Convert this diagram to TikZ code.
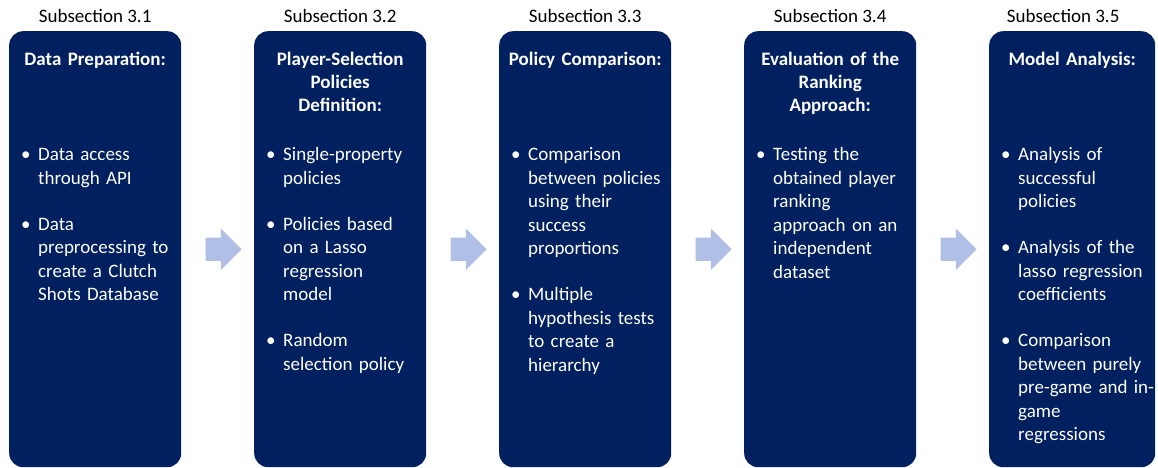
\documentclass[tikz,border=0pt]{standalone}
\usepackage{fontspec}
\setmainfont{Carlito}
\usepackage{enumitem}
\usetikzlibrary{positioning,shapes.arrows,calc}

\definecolor{panelblue}{HTML}{002060}
\definecolor{flowblue}{HTML}{B0BFE6}

\tikzset{
  panel/.style={fill=panelblue, rounded corners=14pt, minimum width=172pt,
    minimum height=436pt, inner sep=0pt, anchor=north west},
  heading/.style={font=\fontsize{19}{23}\selectfont, inner sep=0pt},
  title/.style={text=white, font=\fontsize{19}{23}\selectfont\bfseries,
    text width=170pt, align=center, inner sep=0pt},
  items/.style={text=white, font=\fontsize{19}{23.5}\selectfont,
    text width=156pt, align=left, inner sep=0pt},
  flow/.style={single arrow, fill=flowblue, minimum height=36pt,
    inner xsep=0pt, inner ysep=11.5pt, single arrow head extend=9pt}
}

\newcommand{\pointlist}[1]{%
  \begin{itemize}[leftmargin=17pt,labelsep=0pt,labelwidth=17pt,align=left,
    itemsep=22.5pt,parsep=0pt,topsep=0pt,partopsep=0pt]#1\end{itemize}}

\begin{document}
\begin{tikzpicture}[x=1pt,y=-1pt]
  \useasboundingbox (0,0) rectangle (1158,468);

  % panels
  \node[panel] (b1) at (9,31) {};
  \node[panel] (b2) at (254,31) {};
  \node[panel] (b3) at (499,31) {};
  \node[panel] (b4) at (744,31) {};
  \node[panel, minimum width=166pt] (b5) at (989,31) {};

  % headings
  \node[heading, above=8pt of b1.north] (h1) {Subsection 3.1};
  \node[heading, above=8pt of b2.north] (h2) {Subsection 3.2};
  \node[heading, above=8pt of b3.north] (h3) {Subsection 3.3};
  \node[heading, above=8pt of b4.north] (h4) {Subsection 3.4};
  \node[heading, above=8pt of b5.north, xshift=-9pt] (h5) {Subsection 3.5};

  % titles
  \node[title, below=21pt of b1.north] (t1) {Data Preparation:};
  \node[title, below=21pt of b2.north] (t2) {Player-Selection\\ Policies\\ Definition:};
  \node[title, below=21pt of b3.north] (t3) {Policy Comparison:};
  \node[title, below=21pt of b4.north] (t4) {Evaluation of the\\ Ranking\\ Approach:};
  \node[title, below=21pt of b5.north] (t5) {Model Analysis:};

  % contents
  \node[items, below right=106pt and 12pt of b1.north west] (l1) {\pointlist{
    \item Data access\\ through API
    \item Data\\ preprocessing to\\ create a Clutch\\ Shots Database}};
  \node[items, below right=106pt and 12pt of b2.north west] (l2) {\pointlist{
    \item Single-property\\ policies
    \item Policies based\\ on a Lasso\\ regression\\ model
    \item Random\\ selection policy}};
  \node[items, below right=106pt and 12pt of b3.north west] (l3) {\pointlist{
    \item Comparison\\ between policies\\ using their\\ success\\ proportions
    \item Multiple\\ hypothesis tests\\ to create a\\ hierarchy}};
  \node[items, below right=106pt and 12pt of b4.north west] (l4) {\pointlist{
    \item Testing the\\ obtained player\\ ranking\\ approach on an\\ independent\\ dataset}};
  \node[items, below right=106pt and 12pt of b5.north west] (l5) {\pointlist{
    \item Analysis of\\ successful\\ policies
    \item Analysis of the\\ lasso regression\\ coefficients
    \item Comparison\\ between purely\\ pre-game and in-\\ game\\ regressions}};

  % arrows between panels
  \node[flow] (f1) at ($(b1.east)!0.5!(b2.west)$) {};
  \node[flow] (f2) at ($(b2.east)!0.5!(b3.west)$) {};
  \node[flow] (f3) at ($(b3.east)!0.5!(b4.west)$) {};
  \node[flow] (f4) at ($(b4.east)!0.5!(b5.west)$) {};
\end{tikzpicture}
\end{document}
